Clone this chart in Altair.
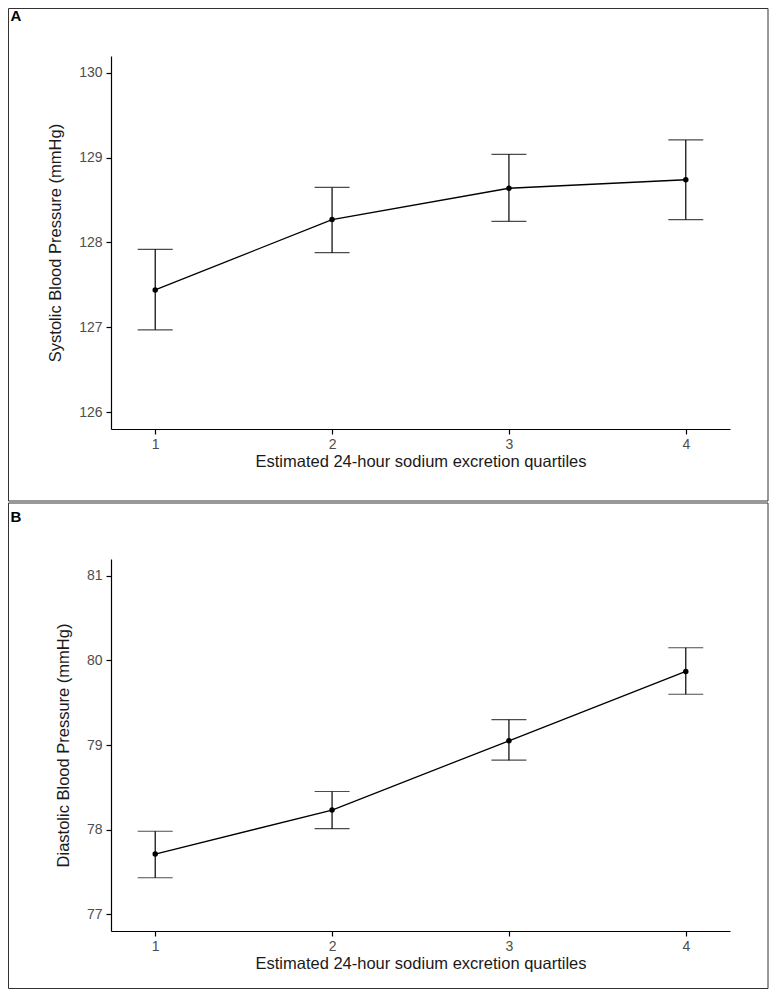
import altair as alt
import pandas as pd

quartiles = [1, 2, 3, 4]
sbp_mean = [127.44, 128.27, 128.64, 128.74]
sbp_lo = [126.97, 127.88, 128.25, 128.27]
sbp_hi = [127.92, 128.65, 129.04, 129.21]
dbp_mean = [77.71, 78.23, 79.05, 79.87]
dbp_lo = [77.43, 78.01, 78.82, 79.60]
dbp_hi = [77.98, 78.45, 79.30, 80.15]

x_title = "Estimated 24-hour sodium excretion quartiles"
FONT = "Liberation Sans"


def panel(label, mean, lo, hi, ytitle, ydom, yticks, height, rect_top, rect_bottom, label_y):
    df = pd.DataFrame({"q": quartiles, "m": mean, "lo": lo, "hi": hi})
    base = alt.Chart(df)
    xenc = alt.X("q:Q", title=x_title,
                 scale=alt.Scale(domain=[0.75, 4.25], nice=False, zero=False),
                 axis=alt.Axis(values=quartiles, format="d"))
    yscale = alt.Scale(domain=ydom, nice=False, zero=False)
    line = base.mark_line(color="black", strokeWidth=1.3).encode(
        x=xenc,
        y=alt.Y("m:Q", title=ytitle, scale=yscale, axis=alt.Axis(values=yticks, format="d")),
    )
    bars = base.mark_rule(color="black", strokeWidth=1.2).encode(
        x="q:Q", y="lo:Q", y2="hi:Q")
    cap_hi = base.mark_tick(orient="horizontal", size=35, thickness=1.2, color="black").encode(
        x="q:Q", y="hi:Q")
    cap_lo = base.mark_tick(orient="horizontal", size=35, thickness=1.2, color="black").encode(
        x="q:Q", y="lo:Q")
    pts = base.mark_circle(color="black", size=30, opacity=1).encode(x="q:Q", y="m:Q")
    one = pd.DataFrame({"t": [label]})
    frame = alt.Chart(one).mark_rect(fill="transparent", stroke="#333333", strokeWidth=1).encode(
        x=alt.value(-102.5), x2=alt.value(657), y=alt.value(rect_top), y2=alt.value(rect_bottom))
    tag = alt.Chart(one).mark_text(font=FONT, fontSize=15, fontWeight="bold", color="black",
                                   align="center", baseline="alphabetic").encode(
        x=alt.value(-95), y=alt.value(label_y), text="t:N")
    return alt.layer(frame, tag, line, bars, cap_hi, cap_lo, pts).properties(width=619, height=height)


a = panel("A", sbp_mean, sbp_lo, sbp_hi, "Systolic Blood Pressure (mmHg)",
          [125.8, 130.2], [126, 127, 128, 129, 130], 373, -47.5, 445, -35.5)
b = panel("B", dbp_mean, dbp_lo, dbp_hi, "Diastolic Blood Pressure (mmHg)",
          [76.8, 81.2], [77, 78, 79, 80, 81], 372, -56, 429.5, -37)

chart = alt.vconcat(a, b, spacing=0).properties(padding=0, background="white").configure_view(
    stroke=None, strokeWidth=0
).configure_axis(
    grid=False, domainColor="black", domainWidth=1.2, tickColor="black", tickSize=5,
    tickWidth=1.2,
    labelFont=FONT, labelFontSize=14, labelColor="#4D4D4D", labelPadding=3,
    titleFont=FONT, titleFontSize=16.5, titleFontWeight="normal", titleColor="#1A1A1A",
    titlePadding=2,
).configure_axisY(titlePadding=15, labelPadding=4)

chart.save("out.html", embed_options={"renderer": "svg", "actions": False})
